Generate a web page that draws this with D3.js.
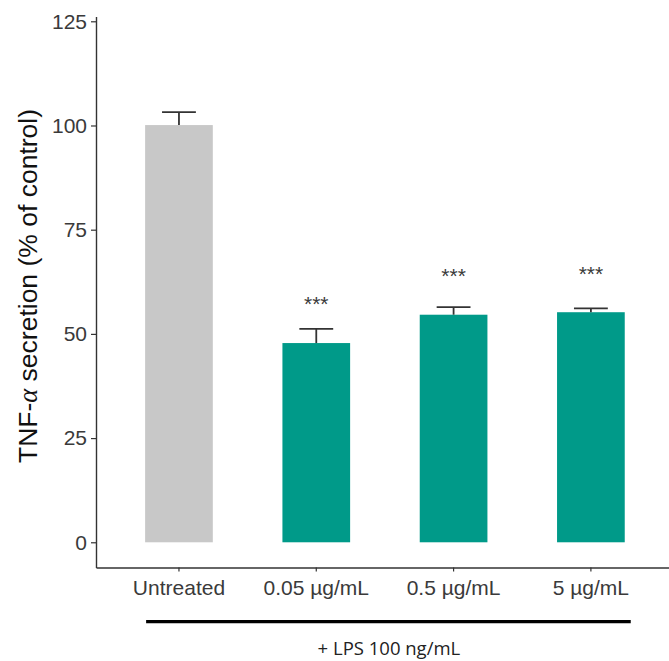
<!DOCTYPE html>
<html>
<head>
<meta charset="utf-8">
<script src="https://cdn.jsdelivr.net/npm/d3@7/dist/d3.min.js"></script>
<style>
  html, body { margin: 0; padding: 0; background: #fff; }
  svg { display: block; }
</style>
</head>
<body>
<svg id="chart" width="669" height="661"></svg>
<script>
// TNF-α secretion, % of untreated control
const categories = ["Untreated", "0.05 µg/mL", "0.5 µg/mL", "5 µg/mL"];
const means      = [100.1, 47.8, 54.6, 55.2];
const errors     = [3.1, 3.4, 1.8, 0.9];
const sigLabels  = ["", "***", "***", "***"];
const sigLabelY  = [0, 58.3, 65.1, 65.6];
const barColors  = ["#c8c8c8", "#009a89", "#009a89", "#009a89"];
const yTicks     = [0, 25, 50, 75, 100, 125];
const yTitleParts = ["TNF-", "α", " secretion (% of control)"];
const groupLabel = "+ LPS 100 ng/mL";

const svg = d3.select("#chart");
const axisColor = "#333333";
const textColor = "#3a3a3a";
const sans = "Liberation Sans, Arial, sans-serif";

const x = d3.scaleBand()
  .domain(categories)
  .range([96, 669])
  .paddingInner(0.507)
  .paddingOuter(0.34)
  .align(0.526);

const y = d3.scaleLinear()
  .domain([-6.05, 126.15])
  .range([567.5, 16.5]);

// bars
svg.append("g").selectAll("rect")
  .data(categories)
  .join("rect")
  .attr("x", d => x(d))
  .attr("width", x.bandwidth())
  .attr("y", (d, i) => y(means[i]))
  .attr("height", (d, i) => y(0) - y(means[i]))
  .attr("fill", (d, i) => barColors[i]);

// upper error bars
const eb = svg.append("g")
  .attr("stroke", axisColor)
  .attr("stroke-width", 1.8)
  .attr("fill", "none");
categories.forEach((c, i) => {
  const cx = x(c) + x.bandwidth() / 2;
  const half = x.bandwidth() / 4;
  eb.append("line")
    .attr("x1", cx).attr("x2", cx)
    .attr("y1", y(means[i])).attr("y2", y(means[i] + errors[i]));
  eb.append("line")
    .attr("x1", cx - half).attr("x2", cx + half)
    .attr("y1", y(means[i] + errors[i])).attr("y2", y(means[i] + errors[i]));
});

// significance stars
svg.append("g").selectAll("text")
  .data(categories)
  .join("text")
  .attr("x", d => x(d) + x.bandwidth() / 2)
  .attr("y", (d, i) => y(sigLabelY[i]) + 12)
  .attr("text-anchor", "middle")
  .attr("font-family", sans)
  .attr("font-size", 21)
  .attr("fill", textColor)
  .text((d, i) => sigLabels[i]);

// y axis
const yAxis = svg.append("g")
  .attr("transform", "translate(96,0)")
  .call(d3.axisLeft(y).tickValues(yTicks).tickSize(5).tickPadding(4).tickSizeOuter(0));
yAxis.select(".domain").attr("stroke", axisColor).attr("stroke-width", 1.4);
yAxis.selectAll(".tick line").attr("stroke", axisColor).attr("stroke-width", 1.2);
yAxis.selectAll(".tick text")
  .attr("font-family", sans)
  .attr("font-size", 21)
  .attr("fill", textColor);

// x axis
const xAxis = svg.append("g")
  .attr("transform", `translate(0,${y.range()[0]})`)
  .call(d3.axisBottom(x).tickSize(4).tickPadding(8.5).tickSizeOuter(0));
xAxis.select(".domain").attr("stroke", axisColor).attr("stroke-width", 1.4);
xAxis.selectAll(".tick line").attr("stroke", axisColor).attr("stroke-width", 1.2);
xAxis.selectAll(".tick text")
  .attr("font-family", sans)
  .attr("font-size", 21)
  .attr("fill", textColor);

// y axis title, with an italic alpha
const title = svg.append("text")
  .attr("transform", "translate(37,286) rotate(-90)")
  .attr("text-anchor", "middle")
  .attr("font-family", sans)
  .attr("font-size", 26.5)
  .attr("fill", "#111");
title.selectAll("tspan")
  .data(yTitleParts)
  .join("tspan")
  .attr("font-family", (d, i) => i === 1 ? "Liberation Serif, serif" : null)
  .attr("font-style", (d, i) => i === 1 ? "italic" : null)
  .text(d => d);

// LPS treatment bracket
svg.append("line")
  .attr("x1", x(categories[0]) + 1)
  .attr("x2", x(categories[3]) + x.bandwidth() + 6)
  .attr("y1", 621.7).attr("y2", 621.7)
  .attr("stroke", "#000")
  .attr("stroke-width", 3.3);
svg.append("text")
  .attr("x", (x(categories[0]) + x(categories[3]) + x.bandwidth()) / 2 + 4)
  .attr("y", 655)
  .attr("text-anchor", "middle")
  .attr("font-family", "Open Sans, Noto Sans, sans-serif")
  .attr("font-size", 18.5)
  .attr("fill", "#222")
  .text(groupLabel);
</script>
</body>
</html>
